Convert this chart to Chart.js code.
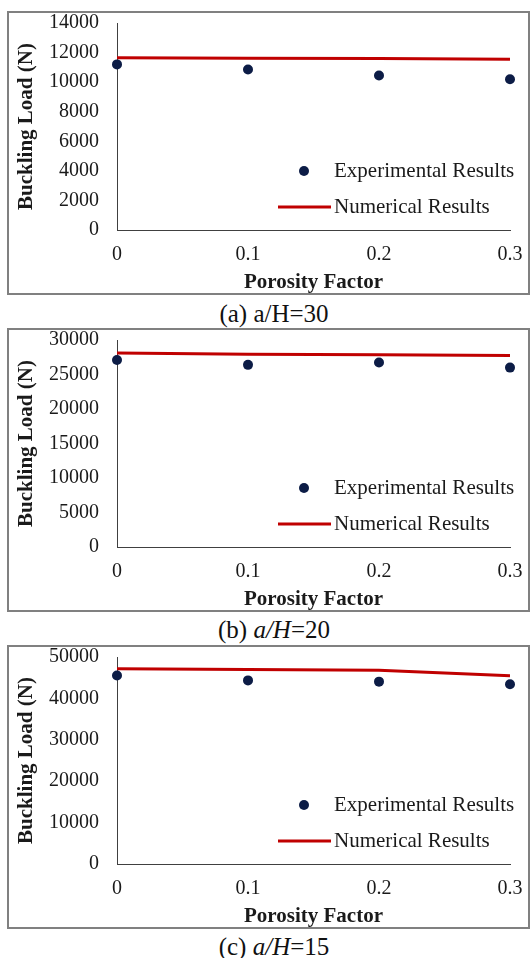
<!DOCTYPE html>
<html><head><meta charset="utf-8">
<script src="https://cdn.jsdelivr.net/npm/chart.js@4.4.1/dist/chart.umd.min.js"></script>
<style>
html,body{margin:0;padding:0;background:#fff;}
body{width:531px;height:958px;position:relative;overflow:hidden;font-family:"Liberation Serif","Times New Roman",serif;}
.box{position:absolute;left:7px;width:523px;height:284px;border:2px solid #808080;box-sizing:border-box;}
canvas{position:absolute;left:0;}
.cap{position:absolute;left:274px;transform:translateX(-50%);font-size:25px;line-height:26px;white-space:nowrap;color:#111;}
</style></head><body>
<div class="box" style="top:11px"></div>
<canvas id="cA" width="531" height="284" style="top:11px"></canvas>
<div class="cap" style="top:301px">(a) a/H=30</div>
<div class="box" style="top:328px"></div>
<canvas id="cB" width="531" height="284" style="top:328px"></canvas>
<div class="cap" style="top:617px">(b) <i>a/H</i>=20</div>
<div class="box" style="top:645px"></div>
<canvas id="cC" width="531" height="284" style="top:645px"></canvas>
<div class="cap" style="top:934px">(c) <i>a/H</i>=15</div>
<script>
// ---- data ----
const porosity = [0, 0.1, 0.2, 0.3];
const xTickLabels = ['0', '0.1', '0.2', '0.3'];
const seriesNames = ['Experimental Results', 'Numerical Results'];

const expA = [11200, 10850, 10450, 10200];
const numA = [11650, 11620, 11600, 11540];
const yTicksA = [0, 2000, 4000, 6000, 8000, 10000, 12000, 14000];

const expB = [27100, 26400, 26750, 26000];
const numB = [28100, 27950, 27850, 27750];
const yTicksB = [0, 5000, 10000, 15000, 20000, 25000, 30000];

const expC = [45550, 44350, 44050, 43400];
const numC = [47150, 47000, 46800, 45500];
const yTicksC = [0, 10000, 20000, 30000, 40000, 50000];

const xAxisTitle = 'Porosity Factor';
const yAxisTitle = 'Buckling Load (N)';

// ---- styles ----
const SERIF = '"Liberation Serif", "Times New Roman", serif';
const DOT = '#0c1c46';
const RED = '#c00000';
const AXIS = '#404040';
const TXT = '#1a1a1a';

const inlineLegend = {
  id: 'inlineLegend',
  afterDatasetsDraw(chart) {
    const {ctx, chartArea} = chart;
    const ds = chart.data.datasets;
    const x0 = chartArea.left, y0 = chartArea.top;
    ctx.save();
    ctx.font = '21px ' + SERIF;
    ctx.textBaseline = 'middle';
    ctx.textAlign = 'left';
    ctx.beginPath();
    ctx.arc(x0 + 187, y0 + 148, 5, 0, Math.PI * 2);
    ctx.fillStyle = ds[0].backgroundColor;
    ctx.fill();
    ctx.fillStyle = TXT;
    ctx.fillText(ds[0].label, x0 + 217, y0 + 148);
    ctx.strokeStyle = ds[1].borderColor;
    ctx.lineWidth = 3;
    ctx.beginPath();
    ctx.moveTo(x0 + 161, y0 + 184);
    ctx.lineTo(x0 + 214, y0 + 184);
    ctx.stroke();
    ctx.fillStyle = TXT;
    ctx.fillText(ds[1].label, x0 + 217, y0 + 184);
    ctx.restore();
  }
};

function makePanel(id, exp, num, yTicks) {
  const yMax = yTicks[yTicks.length - 1];
  new Chart(document.getElementById(id), {
    type: 'scatter',
    data: {
      datasets: [
        {
          label: seriesNames[0],
          data: porosity.map((x, i) => ({x: x, y: exp[i]})),
          pointRadius: 5,
          pointHoverRadius: 5,
          backgroundColor: DOT,
          borderColor: DOT,
          borderWidth: 0,
          showLine: false,
          clip: false,
          order: 0
        },
        {
          label: seriesNames[1],
          data: porosity.map((x, i) => ({x: x, y: num[i]})),
          showLine: true,
          pointRadius: 0,
          borderColor: RED,
          backgroundColor: RED,
          borderWidth: 3,
          tension: 0,
          fill: false,
          clip: false,
          order: 1
        }
      ]
    },
    options: {
      responsive: false,
      animation: false,
      devicePixelRatio: 1,
      layout: {padding: {left: 0, top: 12, right: 21, bottom: 0}},
      plugins: {legend: {display: false}, tooltip: {enabled: false}},
      scales: {
        x: {
          type: 'linear',
          min: 0, max: 0.3,
          afterBuildTicks: s => { s.ticks = porosity.map(v => ({value: v})); },
          afterFit: s => { s.height = 65; s.paddingLeft = 0; s.paddingRight = 0; s.paddingTop = 0; s.paddingBottom = 0; },
          grid: {display: false, drawTicks: false},
          border: {display: true, color: AXIS, width: 1},
          ticks: {
            padding: 13,
            color: TXT,
            font: {family: SERIF, size: 20},
            maxRotation: 0,
            callback: (v, i) => xTickLabels[i]
          },
          title: {
            display: true, text: xAxisTitle, color: TXT,
            font: {family: SERIF, size: 21, weight: 'bold'},
            padding: {top: 0, bottom: 0}
          }
        },
        y: {
          type: 'linear',
          min: 0, max: yMax,
          afterBuildTicks: s => { s.ticks = yTicks.map(v => ({value: v})); },
          afterFit: s => { s.width = 117; s.paddingLeft = 0; s.paddingRight = 0; s.paddingTop = 0; s.paddingBottom = 0; },
          grid: {display: false, drawTicks: false},
          border: {display: true, color: AXIS, width: 1},
          ticks: {
            padding: 18,
            color: TXT,
            font: {family: SERIF, size: 20},
            callback: v => String(v)
          },
          title: {
            display: true, text: yAxisTitle, color: TXT,
            font: {family: SERIF, size: 21, weight: 'bold'},
            padding: {top: 14, bottom: 0}
          }
        }
      }
    },
    plugins: [inlineLegend]
  });
}

makePanel('cA', expA, numA, yTicksA);
makePanel('cB', expB, numB, yTicksB);
makePanel('cC', expC, numC, yTicksC);
</script>
</body></html>
